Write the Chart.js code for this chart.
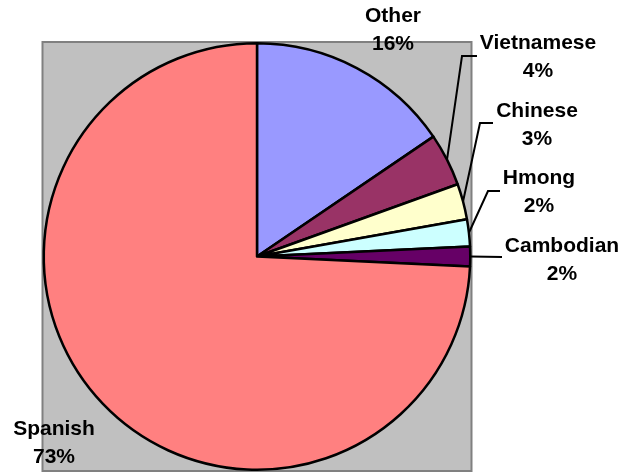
<!DOCTYPE html>
<html>
<head>
<meta charset="utf-8">
<script src="https://cdn.jsdelivr.net/npm/chart.js@4"></script>
<style>
  html, body { margin: 0; padding: 0; background: #fff; }
  canvas { display: block; }
</style>
</head>
<body>
<canvas id="pie" width="624" height="473"></canvas>
<script>
// languages spoken (clockwise from 12 o'clock)
const languages = ["Other", "Vietnamese", "Chinese", "Hmong", "Cambodian", "Spanish"];
const shares = [15.5, 4.0, 2.7, 2.05, 1.5, 74.25];
const shareText = ["16%", "4%", "3%", "2%", "2%", "73%"];
const sliceColors = ["#9999FF", "#993366", "#FFFFCC", "#CCFFFF", "#660066", "#FF8080"];

// where each label sits (x centre, baseline of first line) and its leader elbow, if any
const labelLayout = [
  { x: 393, y: 22 },
  { x: 538, y: 49, elbow: [462, 56], end: [477, 56] },
  { x: 537, y: 117, elbow: [480, 123], end: [493, 123] },
  { x: 539, y: 184, elbow: [488, 191], end: [500, 191] },
  { x: 562, y: 252, elbow: null, end: [502, 257] },
  { x: 54, y: 435 }
];
const lineGap = 28;

// grey plot area behind the pie
const plotArea = {
  id: 'plotArea',
  beforeDraw(chart) {
    const { ctx, chartArea: a } = chart;
    ctx.save();
    ctx.fillStyle = '#C0C0C0';
    ctx.fillRect(a.left, a.top, a.right - a.left, a.bottom - a.top);
    ctx.strokeStyle = '#808080';
    ctx.lineWidth = 2;
    ctx.strokeRect(a.left, a.top, a.right - a.left, a.bottom - a.top);
    ctx.restore();
  }
};

// category + percent labels with leader lines
const sliceLabels = {
  id: 'sliceLabels',
  afterDraw(chart) {
    const ctx = chart.ctx;
    const arcs = chart.getDatasetMeta(0).data;
    ctx.save();
    ctx.strokeStyle = '#000';
    ctx.lineWidth = 2;
    arcs.forEach((arc, i) => {
      const lay = labelLayout[i];
      if (lay.end) {
        const mid = (arc.startAngle + arc.endAngle) / 2;
        const sx = arc.x + Math.cos(mid) * arc.outerRadius;
        const sy = arc.y + Math.sin(mid) * arc.outerRadius;
        ctx.beginPath();
        ctx.moveTo(sx, sy);
        if (lay.elbow) ctx.lineTo(lay.elbow[0], lay.elbow[1]);
        ctx.lineTo(lay.end[0], lay.end[1]);
        ctx.stroke();
      }
    });
    ctx.fillStyle = '#000';
    ctx.font = 'bold 21px "Liberation Sans", Arial, sans-serif';
    ctx.textAlign = 'center';
    ctx.textBaseline = 'alphabetic';
    languages.forEach((name, i) => {
      const lay = labelLayout[i];
      ctx.fillText(name, lay.x, lay.y);
      ctx.fillText(shareText[i], lay.x, lay.y + lineGap);
    });
    ctx.restore();
  }
};

new Chart(document.getElementById('pie'), {
  type: 'pie',
  data: {
    labels: languages,
    datasets: [{
      data: shares,
      backgroundColor: sliceColors,
      borderColor: '#000',
      borderWidth: 2.5,
      borderJoinStyle: 'round'
    }]
  },
  options: {
    responsive: false,
    animation: false,
    devicePixelRatio: 1,
    layout: { padding: { left: 42.5, right: 152.5, top: 42, bottom: 2 } },
    plugins: {
      legend: { display: false },
      tooltip: { enabled: false },
      title: { display: false }
    }
  },
  plugins: [plotArea, sliceLabels]
});
</script>
</body>
</html>
